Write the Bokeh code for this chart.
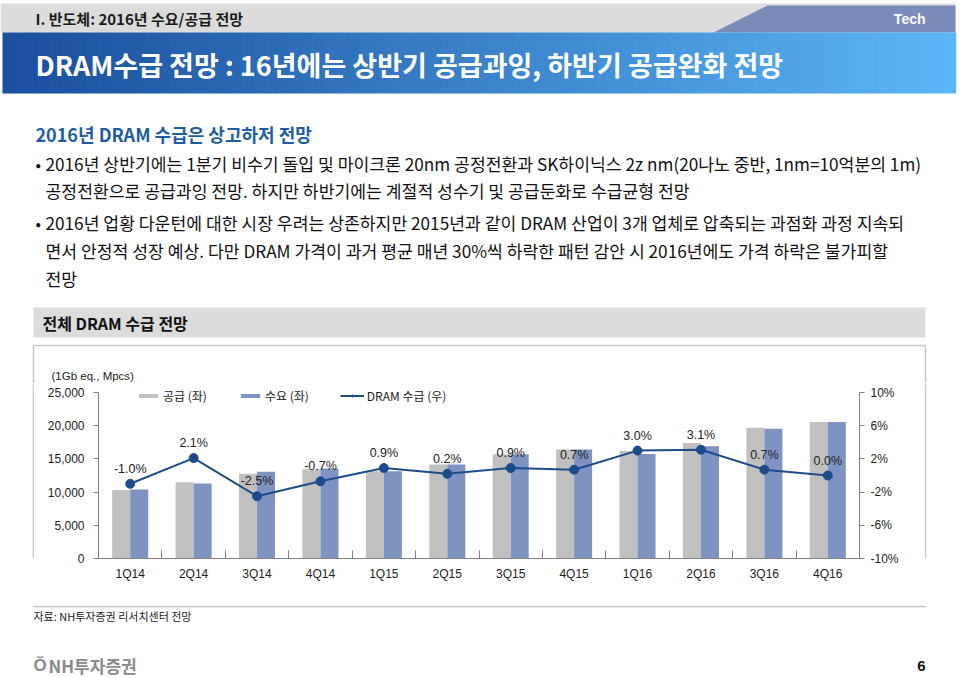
from bokeh.plotting import figure
from bokeh.layouts import column, row
from bokeh.models import (Range1d, LinearAxis, FixedTicker, NumeralTickFormatter,
                          PrintfTickFormatter, CustomJSTickFormatter, ColumnDataSource,
                          LabelSet, Legend, LegendItem)
from bokeh.transform import dodge
from bokeh.core.properties import value
from bokeh.embed import file_html
from bokeh.resources import INLINE

# ---------------- data ----------------
quarters = ["1Q14", "2Q14", "3Q14", "4Q14", "1Q15", "2Q15",
            "3Q15", "4Q15", "1Q16", "2Q16", "3Q16", "4Q16"]
supply = [10300, 11500, 12750, 13450, 13150, 14150,
          15700, 16400, 16200, 17400, 19700, 20550]
demand = [10400, 11300, 13050, 13550, 13150, 14150,
          15700, 16400, 15750, 16900, 19550, 20550]
balance = [-1.0, 2.1, -2.5, -0.7, 0.9, 0.2, 0.9, 0.7, 3.0, 3.1, 0.7, 0.0]
left_ticks = [0, 5000, 10000, 15000, 20000, 25000]
right_ticks = [-10, -6, -2, 2, 6, 10]
series_names = ["공급 (좌)", "수요 (좌)", "DRAM 수급 (우)"]

KR = "Noto Sans CJK KR"
LAT = "Liberation Sans"
GRAY_BAR = "#c0c0c0"
BLUE_BAR = "#7f93c2"
LINE = "#1c4b8c"
AXIS = "#808080"
BOXLINE = "#c8c8c8"


# ---------------- decoration canvases in page-pixel coordinates ----------------
def deco(xl, xr, yt, yb):
    f = figure(width=xr - xl, height=yb - yt, x_range=Range1d(xl, xr), y_range=Range1d(yb, yt),
               output_backend="svg", toolbar_location=None, x_axis_type=None, y_axis_type=None,
               min_border=0)
    f.title.visible = False
    f.outline_line_color = None
    f.xgrid.visible = False
    f.ygrid.visible = False
    f.background_fill_color = "white"
    f.border_fill_color = "white"
    return f


def put_text(f, x, y, s, size, color="#111111", font=KR, style="normal", align="left"):
    f.text(x=[x], y=[y], text=[s], text_font=value(font), text_font_size=value(f"{size}px"),
           text_color=color, text_font_style=style, text_align=align, text_baseline="middle")


top = deco(0, 960, 0, 383)
# header band
top.quad(left=[0], right=[955], top=[3], bottom=[32], fill_color="#dcdcdc", line_color=None)
top.patch(x=[713, 767, 955, 955], y=[32, 5, 5, 32], fill_color="#7b8cbb", line_color=None)
put_text(top, 35, 18, "I. 반도체: 2016년 수요/공급 전망", 15, "#1a1a1a", style="bold")
put_text(top, 925, 18, "Tech", 14, "white", font=LAT, style="bold", align="right")

# gradient title band
c0 = (0x1a, 0x4f, 0x9e)
c1 = (0x5b, 0xb6, 0xf6)
n = 80
x0, x1 = 2, 955
ls, rs, cols = [], [], []
for k in range(n):
    t = k / (n - 1)
    cols.append("#%02x%02x%02x" % tuple(int(c0[j] + (c1[j] - c0[j]) * t) for j in range(3)))
    ls.append(x0 + (x1 - x0) * k / n)
    rs.append(x0 + (x1 - x0) * (k + 1) / n + 0.7)
top.quad(left=ls, right=rs, top=[32] * n, bottom=[93] * n, fill_color=cols, line_color=None)
put_text(top, 35, 64, "DRAM수급 전망 : 16년에는 상반기 공급과잉, 하반기 공급완화 전망", 27, "white", style="bold")

# body text
put_text(top, 35, 133, "2016년 DRAM 수급은 상고하저 전망", 18, "#1f5ca3", style="bold")
body = [
    (163, True, "2016년 상반기에는 1분기 비수기 돌입 및 마이크론 20nm 공정전환과 SK하이닉스 2z nm(20나노 중반, 1nm=10억분의 1m)"),
    (190, False, "공정전환으로 공급과잉 전망. 하지만 하반기에는 계절적 성수기 및 공급둔화로 수급균형 전망"),
    (222, True, "2016년 업황 다운턴에 대한 시장 우려는 상존하지만 2015년과 같이 DRAM 산업이 3개 업체로 압축되는 과점화 과정 지속되"),
    (250, False, "면서 안정적 성장 예상. 다만 DRAM 가격이 과거 평균 매년 30%씩 하락한 패턴 감안 시 2016년에도 가격 하락은 불가피할"),
    (278, False, "전망"),
]
for y, bullet, s in body:
    if bullet:
        put_text(top, 35, y, "•", 16)
    put_text(top, 45, y, s, 17.2)

# section header + chart box (top part)
top.quad(left=[33], right=[925], top=[307], bottom=[337], fill_color="#dcdcdc", line_color=None)
put_text(top, 42, 322, "전체 DRAM 수급 전망", 16, style="bold")
top.quad(left=[33], right=[925], top=[345], bottom=[800], fill_alpha=0,
         line_color=BOXLINE, line_width=1.5)
put_text(top, 51, 375, "(1Gb eq., Mpcs)", 11.5, "#222222", font=LAT)

# side strips of the chart box
lstrip = deco(0, 34, 383, 605)
lstrip.segment(x0=[33], y0=[300], x1=[33], y1=[700], line_color=BOXLINE, line_width=1.5)
rstrip = deco(924, 960, 383, 605)
rstrip.segment(x0=[925], y0=[300], x1=[925], y1=[700], line_color=BOXLINE, line_width=1.5)

# footer
foot = deco(0, 960, 605, 678)
foot.quad(left=[33], right=[925], top=[0], bottom=[606], fill_alpha=0,
          line_color=BOXLINE, line_width=1.5)
put_text(foot, 33, 615, "자료: NH투자증권 리서치센터 전망", 11, "#222222")
put_text(foot, 33, 665, "Ŏ", 17, "#8a8a8a", font=LAT, style="bold")
put_text(foot, 48, 665, "NH투자증권", 17, "#8a8a8a", style="bold")
put_text(foot, 921, 665, "6", 15, "#111111", font=LAT, style="bold", align="center")

# ---------------- chart ----------------
AXIS_PX = 166      # pixel height of the 0..25,000 axis
FRAME_PX = 174     # frame height (a little head-room for the legend)
ymax = left_ticks[-1] * FRAME_PX / AXIS_PX
pmax = right_ticks[0] + (right_ticks[-1] - right_ticks[0]) * FRAME_PX / AXIS_PX

p = figure(width=890, height=222, x_range=Range1d(0, 12), y_range=Range1d(0, ymax),
           min_border_left=64, min_border_right=65, min_border_top=1, min_border_bottom=47,
           output_backend="svg", toolbar_location=None, x_axis_type=None, y_axis_type=None)
p.title.visible = False
p.outline_line_color = None
p.xgrid.visible = False
p.ygrid.visible = False
p.background_fill_color = "white"
p.border_fill_color = "white"
p.extra_y_ranges = {"pct": Range1d(right_ticks[0], pmax)}

src = ColumnDataSource(dict(
    x=[i + 0.5 for i in range(len(quarters))],
    q=quarters, supply=supply, demand=demand, bal=balance,
    lbl=[f"{v:.1f}%" for v in balance]))

bw = 0.284
r_sup = p.vbar(x=dodge("x", -bw / 2), top="supply", width=bw, source=src,
               fill_color=GRAY_BAR, line_color=None)
r_dem = p.vbar(x=dodge("x", bw / 2), top="demand", width=bw, source=src,
               fill_color=BLUE_BAR, line_color=None)
r_line = p.line(x="x", y="bal", source=src, y_range_name="pct", line_color=LINE, line_width=2)
r_dot = p.scatter(x="x", y="bal", source=src, y_range_name="pct", size=9,
                  fill_color=LINE, line_color=LINE)

labels = LabelSet(x="x", y="bal", text="lbl", source=src, y_range_name="pct",
                  y_offset=15, text_align="center", text_baseline="middle",
                  text_font=value(LAT), text_font_size="12.5px", text_color="#222222")
p.add_layout(labels)


def style_axis(ax):
    ax.axis_line_color = AXIS
    ax.major_tick_line_color = AXIS
    ax.minor_tick_line_color = AXIS
    ax.major_label_text_font = LAT
    ax.major_label_text_font_size = "12px"
    ax.major_label_text_color = "#222222"


yl = LinearAxis(ticker=FixedTicker(ticks=left_ticks), formatter=NumeralTickFormatter(format="0,0"),
                bounds=(left_ticks[0], left_ticks[-1]))
style_axis(yl)
yl.major_tick_in = 0
yl.major_tick_out = 5
yl.major_label_standoff = 9
p.add_layout(yl, "left")

yr = LinearAxis(y_range_name="pct", ticker=FixedTicker(ticks=right_ticks),
                formatter=PrintfTickFormatter(format="%d%%"),
                bounds=(right_ticks[0], right_ticks[-1]))
style_axis(yr)
yr.major_tick_in = 0
yr.major_tick_out = 5
yr.major_label_standoff = 6
p.add_layout(yr, "right")

xa = LinearAxis(ticker=FixedTicker(ticks=[i + 0.5 for i in range(len(quarters))],
                                   minor_ticks=list(range(1, len(quarters)))),
                formatter=CustomJSTickFormatter(args=dict(labels=quarters),
                                                code="return labels[Math.floor(tick)]"))
style_axis(xa)
xa.major_tick_line_color = None
xa.major_tick_out = 0
xa.major_tick_in = 0
xa.minor_tick_in = 8
xa.minor_tick_out = 0
xa.major_label_standoff = 8
p.add_layout(xa, "below")

legend = Legend(items=[LegendItem(label=series_names[0], renderers=[r_sup]),
                       LegendItem(label=series_names[1], renderers=[r_dem]),
                       LegendItem(label=series_names[2], renderers=[r_line, r_dot])],
                orientation="horizontal", location=(38, 154), padding=0, margin=0,
                spacing=31, glyph_width=24, glyph_height=5, label_height=12,
                label_standoff=3, label_text_font=KR, label_text_font_size="12px",
                label_text_color="#222222", background_fill_alpha=0, border_line_color=None)
p.add_layout(legend)

layout = column(top, row(lstrip, p, rstrip), foot)
open("out.html", "w").write(file_html(layout, INLINE))
